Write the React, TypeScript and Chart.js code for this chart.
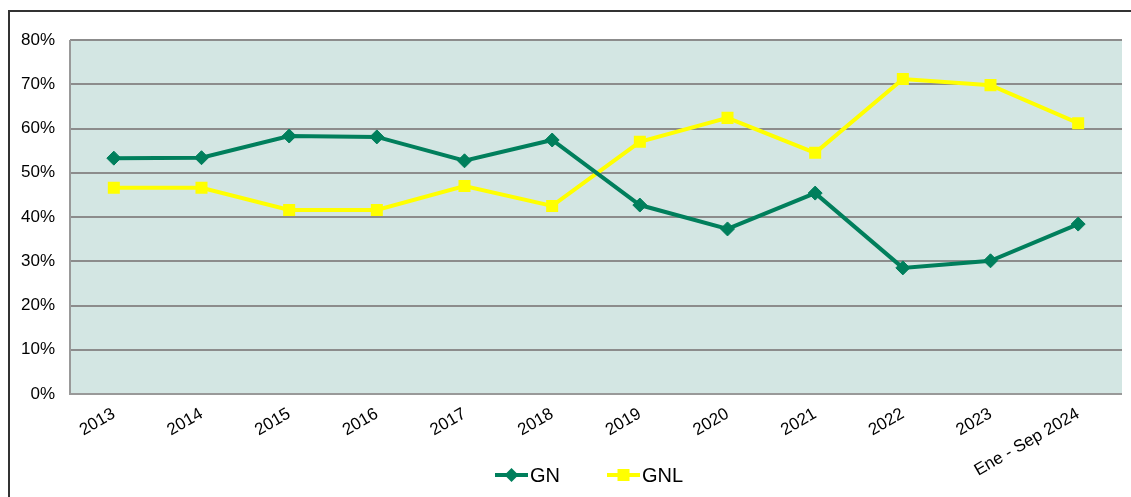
import React, { useEffect, useRef } from "react";
import { Chart, registerables } from "chart.js";

Chart.register(...registerables);

const categories = [
  "2013", "2014", "2015", "2016", "2017", "2018",
  "2019", "2020", "2021", "2022", "2023", "Ene - Sep 2024",
];
const gnValues = [53.3, 53.4, 58.3, 58.1, 52.7, 57.4, 42.7, 37.3, 45.4, 28.5, 30.1, 38.4];
const gnlValues = [46.6, 46.6, 41.6, 41.6, 47.0, 42.5, 57.0, 62.4, 54.5, 71.2, 69.8, 61.2];
const seriesNames = ["GN", "GNL"];
const yMin = 0;
const yMax = 80;
const yStep = 10;

const GREEN = "#007F5C";
const YELLOW = "#FFFF00";
const FONT = "'Liberation Sans', Arial, sans-serif";

function drawMarker(ctx: CanvasRenderingContext2D, style: string, cx: number, cy: number, color: string) {
  ctx.fillStyle = color;
  ctx.beginPath();
  if (style === "rectRot") {
    ctx.moveTo(cx - 7, cy);
    ctx.lineTo(cx, cy - 7);
    ctx.lineTo(cx + 7, cy);
    ctx.lineTo(cx, cy + 7);
    ctx.closePath();
  } else {
    ctx.rect(cx - 6, cy - 6, 12, 12);
  }
  ctx.fill();
}

const plotAreaPlugin = {
  id: "plotArea",
  beforeDraw(chart: any) {
    const { ctx, chartArea } = chart;
    ctx.save();
    ctx.fillStyle = "#D3E6E3";
    ctx.fillRect(chartArea.left, chartArea.top, chartArea.right - chartArea.left, chartArea.bottom - chartArea.top);
    ctx.restore();
  },
  beforeDatasetsDraw(chart: any) {
    const { ctx, chartArea } = chart;
    ctx.save();
    ctx.strokeStyle = "#999999";
    ctx.lineWidth = 2;
    ctx.beginPath();
    ctx.moveTo(chartArea.left, chartArea.top);
    ctx.lineTo(chartArea.left, chartArea.bottom);
    ctx.lineTo(chartArea.right, chartArea.bottom);
    ctx.stroke();
    ctx.restore();
  },
  afterDraw(chart: any) {
    // Excel-style legend: line segment with marker, then the series name
    const { ctx } = chart;
    const lineLen = 33;
    const textGap = 2;
    const itemGap = 47;
    const y = 475;
    let x = 495;
    ctx.save();
    ctx.font = `20px ${FONT}`;
    ctx.textBaseline = "middle";
    ctx.textAlign = "left";
    chart.data.datasets.forEach((ds: any) => {
      ctx.strokeStyle = ds.borderColor;
      ctx.lineWidth = 4;
      ctx.beginPath();
      ctx.moveTo(x, y);
      ctx.lineTo(x + lineLen, y);
      ctx.stroke();
      drawMarker(ctx, ds.pointStyle, x + lineLen / 2, y, ds.borderColor);
      ctx.fillStyle = "#000";
      ctx.fillText(ds.label, x + lineLen + textGap, y + 1);
      x += lineLen + textGap + ctx.measureText(ds.label).width + itemGap;
    });
    ctx.restore();
  },
};

export default function App() {
  const ref = useRef<HTMLCanvasElement>(null);

  useEffect(() => {
    if (!ref.current) return;
    const chart = new Chart(ref.current, {
      type: "line",
      data: {
        labels: categories,
        datasets: [
          {
            label: seriesNames[0],
            data: gnValues,
            borderColor: GREEN,
            backgroundColor: GREEN,
            borderWidth: 4,
            pointStyle: "rectRot",
            pointRadius: 7,
            pointBorderWidth: 1,
            pointBackgroundColor: GREEN,
            pointBorderColor: GREEN,
            tension: 0,
          },
          {
            label: seriesNames[1],
            data: gnlValues,
            borderColor: YELLOW,
            backgroundColor: YELLOW,
            borderWidth: 4,
            pointStyle: "rect",
            pointRadius: 8.5,
            pointBorderWidth: 0,
            pointBackgroundColor: YELLOW,
            pointBorderColor: YELLOW,
            tension: 0,
          },
        ],
      },
      options: {
        responsive: false,
        animation: false,
        layout: { padding: { left: 0, right: 9, top: 40, bottom: 0 } },
        scales: {
          x: {
            offset: true,
            grid: { display: false },
            border: { display: false },
            ticks: {
              autoSkip: false,
              maxRotation: 30,
              minRotation: 30,
              color: "#000",
              padding: 2,
              font: { family: FONT, size: 17 },
            },
            afterFit: (s: any) => {
              s.height = 103;
            },
          },
          y: {
            min: yMin,
            max: yMax,
            grid: { color: "#8C8C8C", lineWidth: 2, drawTicks: false },
            border: { display: false },
            ticks: {
              stepSize: yStep,
              color: "#000",
              padding: 15,
              font: { family: FONT, size: 17 },
              callback: (v: any) => v + "%",
            },
            afterFit: (s: any) => {
              s.width = 70;
            },
          },
        },
        plugins: {
          tooltip: { enabled: false },
          legend: { display: false },
        },
      },
      plugins: [plotAreaPlugin],
    });
    return () => chart.destroy();
  }, []);

  return (
    <div style={{ position: "fixed", left: 0, top: 0, width: 1131, height: 497, overflow: "hidden", background: "#fff" }}>
      <div
        style={{
          position: "absolute",
          left: 8,
          top: 10,
          width: 1300,
          height: 700,
          border: "2px solid #333",
          boxSizing: "border-box",
        }}
      />
      <canvas ref={ref} width={1131} height={497} style={{ position: "absolute", left: 0, top: 0 }} />
    </div>
  );
}
